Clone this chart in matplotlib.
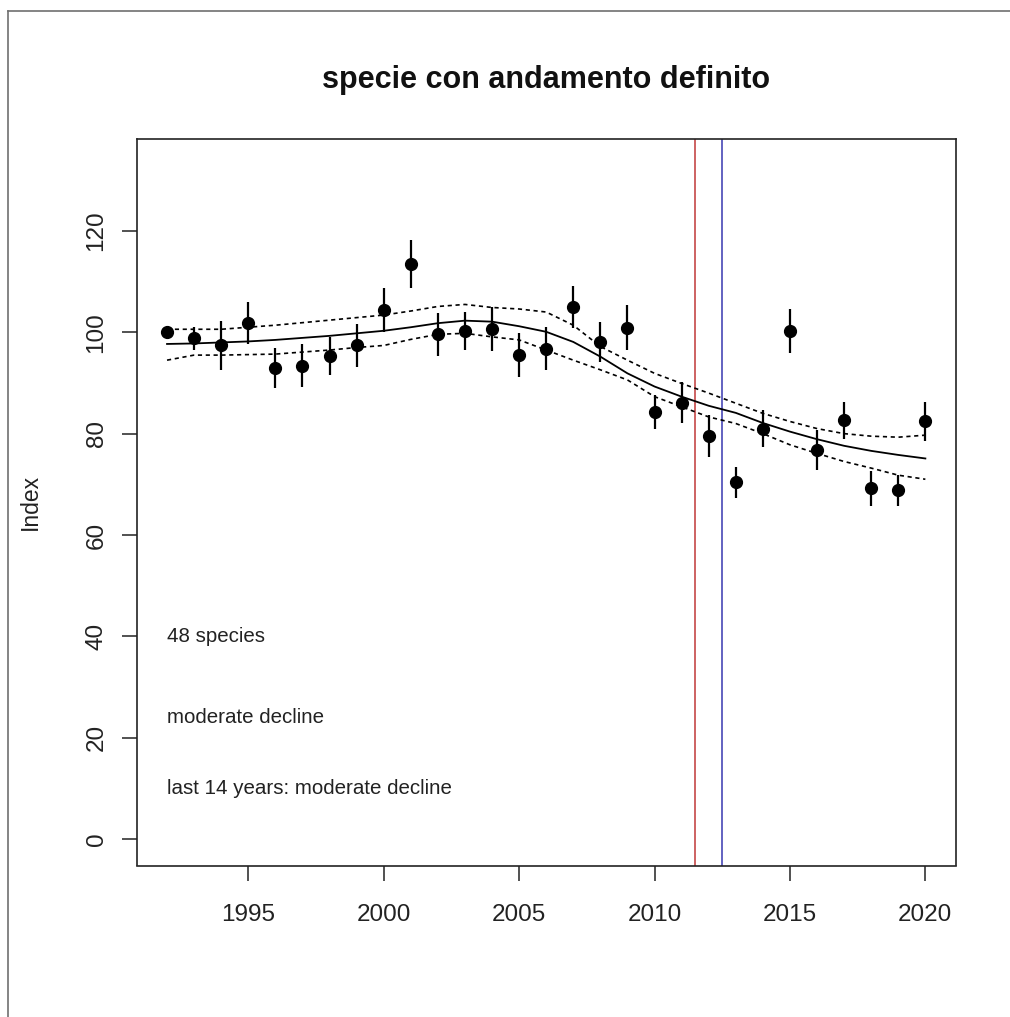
import numpy as np
import matplotlib
matplotlib.use("Agg")
import matplotlib.pyplot as plt
from matplotlib.lines import Line2D

plt.rcParams['font.family'] = ['Liberation Sans', 'DejaVu Sans']

# Indice annuale (anno base 1992 = 100) con errore standard
anni = np.arange(1992, 2021)
indice = [100.0, 98.8, 97.4, 101.8, 93.0, 93.4, 95.3, 97.4, 104.4, 113.5,
          99.6, 100.3, 100.6, 95.5, 96.8, 105.0, 98.1, 100.9, 84.3, 86.1,
          79.5, 70.4, 81.0, 100.3, 76.8, 82.6, 69.2, 68.8, 82.4]
errore = [0.0, 2.3, 4.8, 4.2, 4.0, 4.2, 3.8, 4.3, 4.3, 4.7,
          4.2, 3.7, 4.3, 4.4, 4.2, 4.1, 4.0, 4.4, 3.4, 4.0,
          4.2, 3.1, 3.7, 4.3, 3.9, 3.7, 3.4, 3.1, 3.9]

# Trend smussato e limiti di confidenza
trend = [97.7, 97.8, 98.0, 98.2, 98.5, 98.9, 99.3, 99.8, 100.3, 101.0,
         101.8, 102.3, 102.1, 101.2, 100.1, 98.1, 95.2, 91.9, 89.3, 87.3,
         85.5, 84.1, 82.1, 80.4, 78.9, 77.6, 76.6, 75.8, 75.1]
trend_sup = [100.6, 100.6, 100.6, 101.0, 101.4, 101.9, 102.4, 102.9, 103.4, 104.2,
             105.1, 105.5, 104.9, 104.6, 104.0, 101.4, 97.2, 94.5, 91.9, 89.9,
             88.0, 86.0, 84.0, 82.4, 81.0, 80.0, 79.5, 79.3, 79.7]
trend_inf = [94.5, 95.5, 95.5, 95.6, 95.7, 96.1, 96.5, 97.0, 97.4, 98.6,
             99.6, 99.8, 99.1, 98.5, 96.5, 94.5, 92.6, 90.6, 87.3, 85.3,
             83.3, 82.0, 80.0, 77.8, 76.1, 74.5, 73.2, 71.8, 71.0]

anni_ticks = [1995, 2000, 2005, 2010, 2015, 2020]
index_ticks = [0, 20, 40, 60, 80, 100, 120]
linee_verticali = [(2011.5, '#c03838'), (2012.5, '#3838b0')]
note = [(40, "48 species"), (24, "moderate decline"), (10, "last 14 years: moderate decline")]

W, H = 1010, 1017
fig = plt.figure(figsize=(W / 100, H / 100), dpi=100)
ax = fig.add_axes([136.7 / W, 1 - 865.5 / H, (955.7 - 136.7) / W, (865.5 - 139) / H])

# cornice esterna (solo lati sinistro e superiore visibili)
fig.add_artist(Line2D([8 / W, 8 / W], [0, 1 - 11 / H], transform=fig.transFigure, color='#707070', lw=1.2))
fig.add_artist(Line2D([8 / W, 1], [1 - 11 / H, 1 - 11 / H], transform=fig.transFigure, color='#707070', lw=1.2))

for xv, col in linee_verticali:
    ax.axvline(xv, color=col, lw=1.1, zorder=1)

ax.plot(anni, trend, color='black', lw=1.3, zorder=2)
ax.plot(anni, trend_sup, color='black', lw=1.2, ls=(0, (2.5, 2.2)), zorder=2)
ax.plot(anni, trend_inf, color='black', lw=1.2, ls=(0, (2.5, 2.2)), zorder=2)

ax.errorbar(anni, indice, yerr=errore, fmt='o', color='black', ms=8.5,
            elinewidth=1.6, capsize=0, zorder=3)

for yv, testo in note:
    ax.text(1992, yv, testo, fontsize=14.8, ha='left', va='center', color='#222222')

ax.set_xlim(1990.88, 2021.12)
ax.set_ylim(-5.23, 138.15)
ax.set_xticks(anni_ticks)
ax.set_yticks(index_ticks)
ax.set_xticklabels([str(a) for a in anni_ticks], fontsize=17.5)
ax.set_yticklabels([str(v) for v in index_ticks], fontsize=17.5, rotation=90, va='center')
ax.tick_params(axis='both', length=11, width=1.1, color='#222222', labelcolor='#222222')
ax.tick_params(axis='x', pad=16.5)
ax.tick_params(axis='y', pad=10)
for s in ax.spines.values():
    s.set_linewidth(1.2)
    s.set_color('#222222')

fig.text(30 / W, 1 - 502 / H, "Index", fontsize=16.5, rotation=90,
         ha='center', va='center', color='#222222')
fig.text(546 / W, 1 - 88 / H, "specie con andamento definito", fontsize=22,
         fontweight='bold', ha='center', va='baseline', color='#111111')

fig.savefig("out.png", dpi=100, facecolor='white')
